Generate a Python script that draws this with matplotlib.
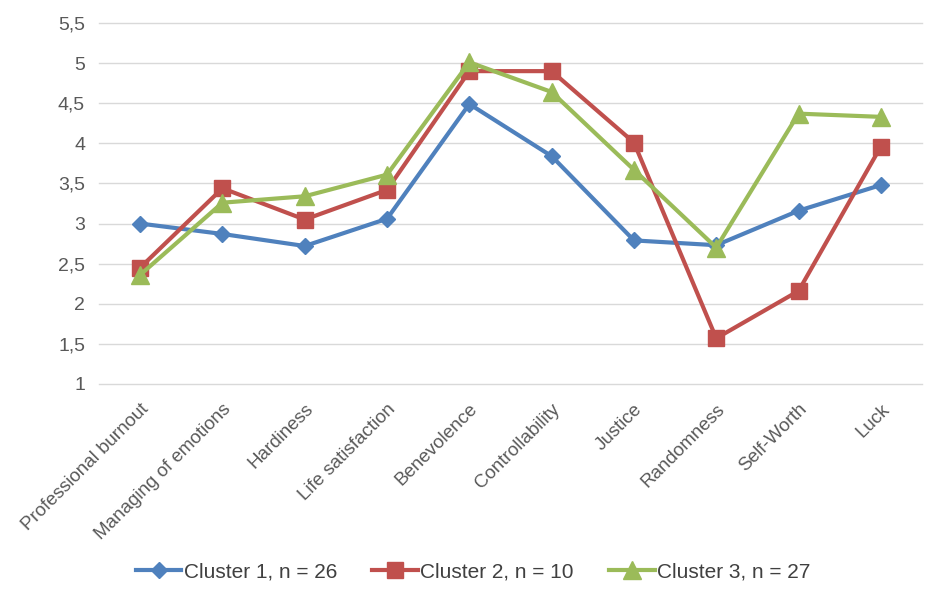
import matplotlib.pyplot as plt
from matplotlib.ticker import FuncFormatter
import numpy as np

plt.rcParams['font.family'] = ['Liberation Sans', 'DejaVu Sans']

categories = ["Professional burnout", "Managing of emotions", "Hardiness", "Life satisfaction",
              "Benevolence", "Controllability", "Justice", "Randomness", "Self-Worth", "Luck"]

cluster1 = [3.00, 2.87, 2.72, 3.06, 4.49, 3.84, 2.79, 2.73, 3.16, 3.48]
cluster2 = [2.45, 3.44, 3.05, 3.42, 4.90, 4.90, 4.01, 1.57, 2.16, 3.96]
cluster3 = [2.36, 3.26, 3.34, 3.61, 5.01, 4.64, 3.67, 2.70, 4.37, 4.33]

labels = ["Cluster 1, n = 26", "Cluster 2, n = 10", "Cluster 3, n = 27"]

fig = plt.figure(figsize=(9.46, 6.03), dpi=100)
ax = fig.add_axes([99 / 946, (603 - 384) / 603, (922 - 99) / 946, (384 - 23) / 603])

x = np.arange(len(categories))
ax.plot(x, cluster1, color='#4F81BD', lw=3, marker='D', ms=8, label=labels[0])
ax.plot(x, cluster2, color='#C0504D', lw=3, marker='s', ms=12, label=labels[1])
ax.plot(x, cluster3, color='#9BBB59', lw=3, marker='^', ms=12.5, label=labels[2])

ax.set_xlim(-0.5, len(categories) - 0.5)
ax.set_ylim(1, 5.5)
ax.set_yticks(np.arange(1, 5.51, 0.5))
ax.yaxis.set_major_formatter(FuncFormatter(lambda v, p: f"{v:g}".replace('.', ',')))
ax.grid(axis='y', color='#D9D9D9', lw=1)
for gl in ax.get_ygridlines():
    gl.set_clip_on(False)
ax.set_axisbelow(True)
for s in ax.spines.values():
    s.set_visible(False)
ax.tick_params(length=0, colors='#595959', labelsize=14)
ax.tick_params(axis='y', pad=10)
ax.set_xticks(x)
ax.set_xticklabels(categories, rotation=45, ha='right', rotation_mode='anchor', fontsize=13.5)
ax.tick_params(axis='x', pad=12)

fig.legend(loc='center', bbox_to_anchor=(0.5, 1 - 572 / 603), ncol=3, frameon=False,
           fontsize=15, handlelength=2.2, handletextpad=0.1, columnspacing=1.7,
           labelcolor='#404040')

fig.savefig('out.png', dpi=100)
